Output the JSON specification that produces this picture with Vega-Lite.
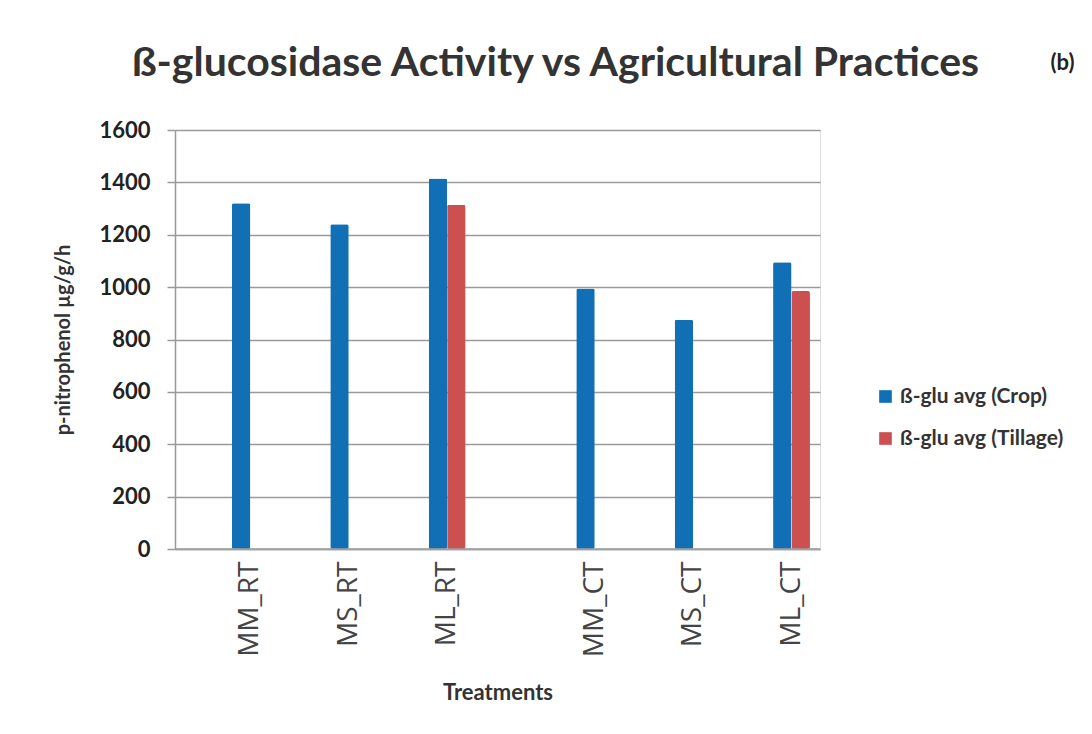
{
  "$schema": "https://vega.github.io/schema/vega-lite/v6.json",
  "width": 645,
  "height": 419,
  "autosize": {"type": "none"},
  "padding": {"left": 175, "top": 130, "right": 272, "bottom": 185},
  "background": "white",
  "title": {
    "text": "ß-glucosidase Activity vs Agricultural Practices",
    "font": "Lato",
    "fontSize": 41,
    "fontWeight": "bold",
    "color": "#333333",
    "anchor": "middle",
    "baseline": "alphabetic",
    "dx": 58,
    "offset": -66
  },
  "data": {
    "values": [
      {"treatment": "MM_RT", "series": "ß-glu avg (Crop)", "value": 1320},
      {"treatment": "MS_RT", "series": "ß-glu avg (Crop)", "value": 1240},
      {"treatment": "ML_RT", "series": "ß-glu avg (Crop)", "value": 1415},
      {"treatment": "ML_RT", "series": "ß-glu avg (Tillage)", "value": 1315},
      {"treatment": "MM_CT", "series": "ß-glu avg (Crop)", "value": 995},
      {"treatment": "MS_CT", "series": "ß-glu avg (Crop)", "value": 875},
      {"treatment": "ML_CT", "series": "ß-glu avg (Crop)", "value": 1095},
      {"treatment": "ML_CT", "series": "ß-glu avg (Tillage)", "value": 985}
    ]
  },
  "layer": [
    {
      "mark": {"type": "bar", "cornerRadius": 2},
      "encoding": {
        "x": {
          "field": "treatment",
          "type": "nominal",
          "sort": null,
          "scale": {
            "domain": ["MM_RT", " ", "MS_RT", "  ", "ML_RT", "   ", "    ", "MM_CT", "     ", "MS_CT", "      ", "ML_CT"],
            "paddingInner": 0.25,
            "paddingOuter": 0.68,
            "align": 0.85
          },
          "axis": {
            "title": "Treatments",
            "titleFont": "Lato",
            "titleFontSize": 22,
            "titleFontWeight": "bold",
            "titleColor": "#333333",
            "titlePadding": 26,
            "labelAngle": -90,
            "labelFont": "Open Sans",
            "labelFontSize": 28,
            "labelColor": "#444444",
            "labelPadding": 12,
            "ticks": false,
            "domainColor": "#a0a0a0",
            "domainWidth": 1.5,
            "grid": false
          }
        },
        "xOffset": {
          "field": "series",
          "scale": {"domain": ["ß-glu avg (Crop)", "ß-glu avg (Tillage)"], "paddingInner": 0}
        },
        "y": {
          "field": "value",
          "type": "quantitative",
          "scale": {"domain": [0, 1600], "nice": false},
          "axis": {
            "title": "p-nitrophenol µg/g/h",
            "titleFont": "Lato",
            "titleFontSize": 20,
            "titleFontWeight": "bold",
            "titleColor": "#333333",
            "titlePadding": 25,
            "values": [0, 200, 400, 600, 800, 1000, 1200, 1400, 1600],
            "format": "d",
            "labelFont": "Lato",
            "labelFontSize": 22,
            "labelFontWeight": "bold",
            "labelColor": "#222222",
            "labelPadding": 17,
            "tickSize": 8,
            "tickColor": "#999999",
            "tickWidth": 1.5,
            "domainColor": "#999999",
            "domainWidth": 1.5,
            "grid": true,
            "gridColor": "#9a9a9a",
            "gridWidth": 1.5
          }
        },
        "color": {
          "field": "series",
          "type": "nominal",
          "scale": {"domain": ["ß-glu avg (Crop)", "ß-glu avg (Tillage)"], "range": ["#1170b5", "#cc5050"]},
          "legend": {
            "title": null,
            "orient": "none",
            "legendX": 700,
            "legendY": 256,
            "symbolType": "square",
            "symbolSize": 160,
            "symbolStrokeWidth": 0,
            "labelFont": "Lato",
            "labelFontSize": 21,
            "labelFontWeight": "bold",
            "labelColor": "#333333",
            "labelOffset": 4,
            "labelLimit": 300,
            "rowPadding": 20
          }
        }
      }
    },
    {
      "data": {"values": [{"base": 0}]},
      "mark": {"type": "rule", "color": "#a0a0a0", "strokeWidth": 1.5},
      "encoding": {
        "y": {
          "field": "base",
          "type": "quantitative",
          "axis": {
            "orient": "right",
            "title": "(b)",
            "titleAngle": 0,
            "titleFont": "Lato",
            "titleFontSize": 22,
            "titleFontWeight": "bold",
            "titleColor": "#222222",
            "titleAlign": "center",
            "titleBaseline": "middle",
            "titleX": 242,
            "titleY": -68,
            "labels": false,
            "ticks": false,
            "domain": false,
            "grid": false
          }
        }
      }
    }
  ],
  "resolve": {"axis": {"y": "independent"}}
}
